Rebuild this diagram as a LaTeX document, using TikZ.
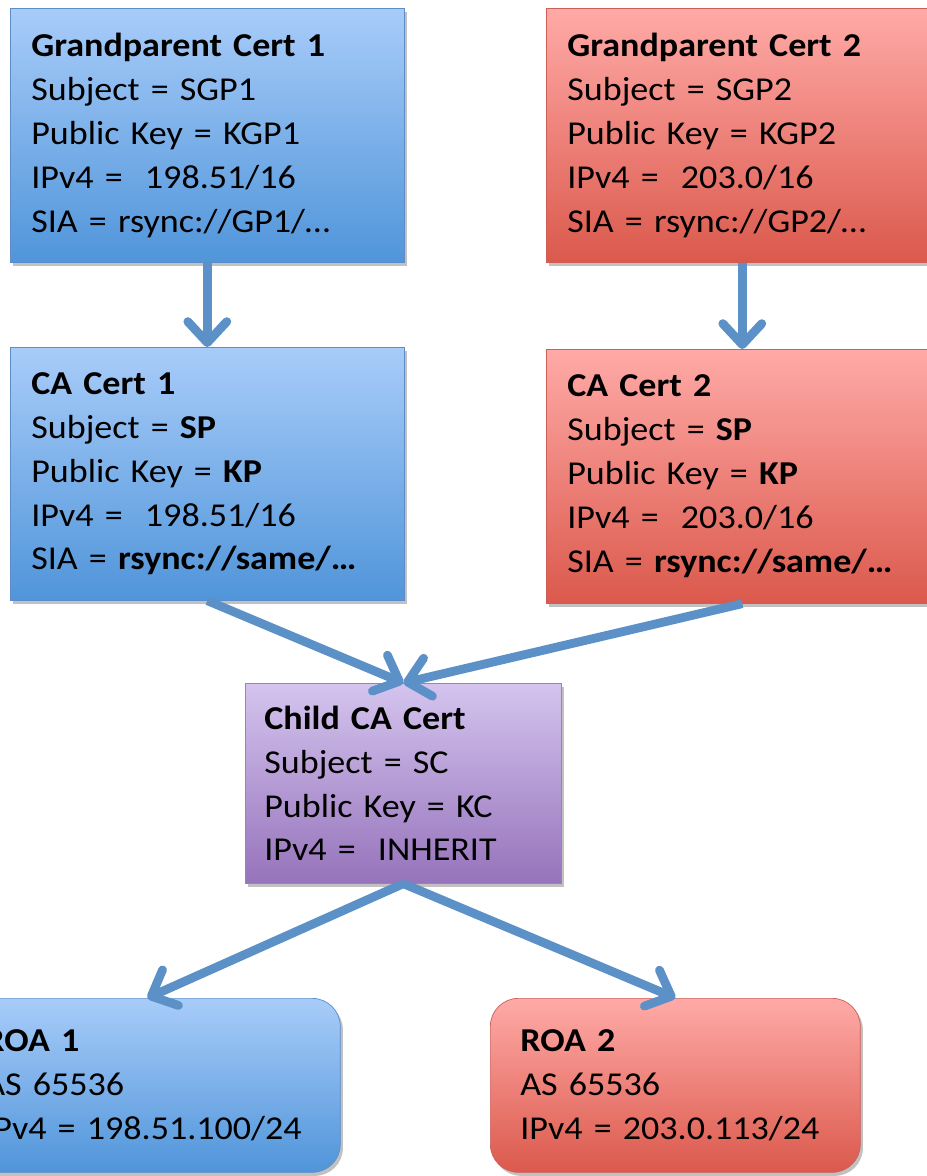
\documentclass[tikz,border=0pt]{standalone}
\usepackage{fontspec}
\setmainfont{Carlito}[FakeStretch=1.08]
\usetikzlibrary{arrows.meta,shadows}
\definecolor{bluetop}{HTML}{A8CCF9}
\definecolor{bluebot}{HTML}{5095DA}
\definecolor{blueline}{HTML}{5C8DC8}
\definecolor{redtop}{HTML}{FFAAA7}
\definecolor{redbot}{HTML}{DB594C}
\definecolor{redline}{HTML}{CF5E57}
\definecolor{purptop}{HTML}{D4C4EE}
\definecolor{purpbot}{HTML}{9673BB}
\definecolor{purpline}{HTML}{9A80C0}
\definecolor{arrowblue}{HTML}{5B91C6}
\tikzset{
  cert/.style={rectangle, anchor=north west, align=left, inner xsep=0.42cm,
    font=\fontsize{19}{25}\selectfont,
    drop shadow={shadow xshift=1.5pt, shadow yshift=-2pt, opacity=.35, fill=black!70}},
  bluebox/.style={cert, draw=blueline, top color=bluetop, bottom color=bluebot},
  redbox/.style={cert, draw=redline, top color=redtop, bottom color=redbot},
  purpbox/.style={cert, draw=purpline, top color=purptop, bottom color=purpbot},
  roa/.style={rounded corners=0.56cm, inner xsep=0.6cm, minimum height=3.48cm},
  link/.style={draw=arrowblue, line width=5pt,
    -{Straight Barb[length=0.42cm, width=0.78cm, round]}}
}
\begin{document}
\begin{tikzpicture}[x=0.02cm,y=-0.02cm]
  \useasboundingbox (0,0) rectangle (926,1176);
  % grandparents
  \node[bluebox, text width=7.04cm, minimum height=5.08cm] (gp1) at (10,8)
    {\textbf{Grandparent Cert 1}\\Subject = SGP1\\Public Key = KGP1\\IPv4 =~ 198.51/16\\SIA = rsync://GP1/…};
  \node[redbox, text width=7.0cm, minimum height=5.08cm] (gp2) at (546,8)
    {\textbf{Grandparent Cert 2}\\Subject = SGP2\\Public Key = KGP2\\IPv4 =~ 203.0/16\\SIA = rsync://GP2/…};
  % CA certs
  \node[bluebox, text width=7.04cm, minimum height=5.06cm] (ca1) at (10,347)
    {\textbf{CA Cert 1}\\Subject = \textbf{SP}\\Public Key = \textbf{KP}\\IPv4 =~ 198.51/16\\SIA = \textbf{rsync://same/…}};
  \node[redbox, text width=7.0cm, minimum height=5.08cm] (ca2) at (546,349)
    {\textbf{CA Cert 2}\\Subject = \textbf{SP}\\Public Key = \textbf{KP}\\IPv4 =~ 203.0/16\\SIA = \textbf{rsync://same/…}};
  % child
  \node[purpbox, text width=5.56cm, minimum height=4.0cm, inner xsep=0.38cm] (child) at (245,683)
    {\textbf{Child CA Cert}\\Subject = SC\\Public Key = KC\\IPv4 =~ INHERIT};
  % ROAs
  \node[bluebox, roa, text width=6.52cm] (roa1) at (-46,998)
    {\textbf{ROA 1}\\AS 65536\\IPv4 = 198.51.100/24};
  \node[redbox, roa, text width=6.2cm] (roa2) at (490,998)
    {\textbf{ROA 2}\\AS 65536\\IPv4 = 203.0.113/24};
  % arrows
  \draw[link] (gp1.south) -- (ca1.north);
  \draw[link] (gp2.south) -- (ca2.north);
  \draw[link] (ca1.south) -- (child.north);
  \draw[link] (ca2.south) -- (child.north);
  \draw[link] (child.south) -- (roa1.north);
  \draw[link] (child.south) -- (roa2.north);
\end{tikzpicture}
\end{document}
